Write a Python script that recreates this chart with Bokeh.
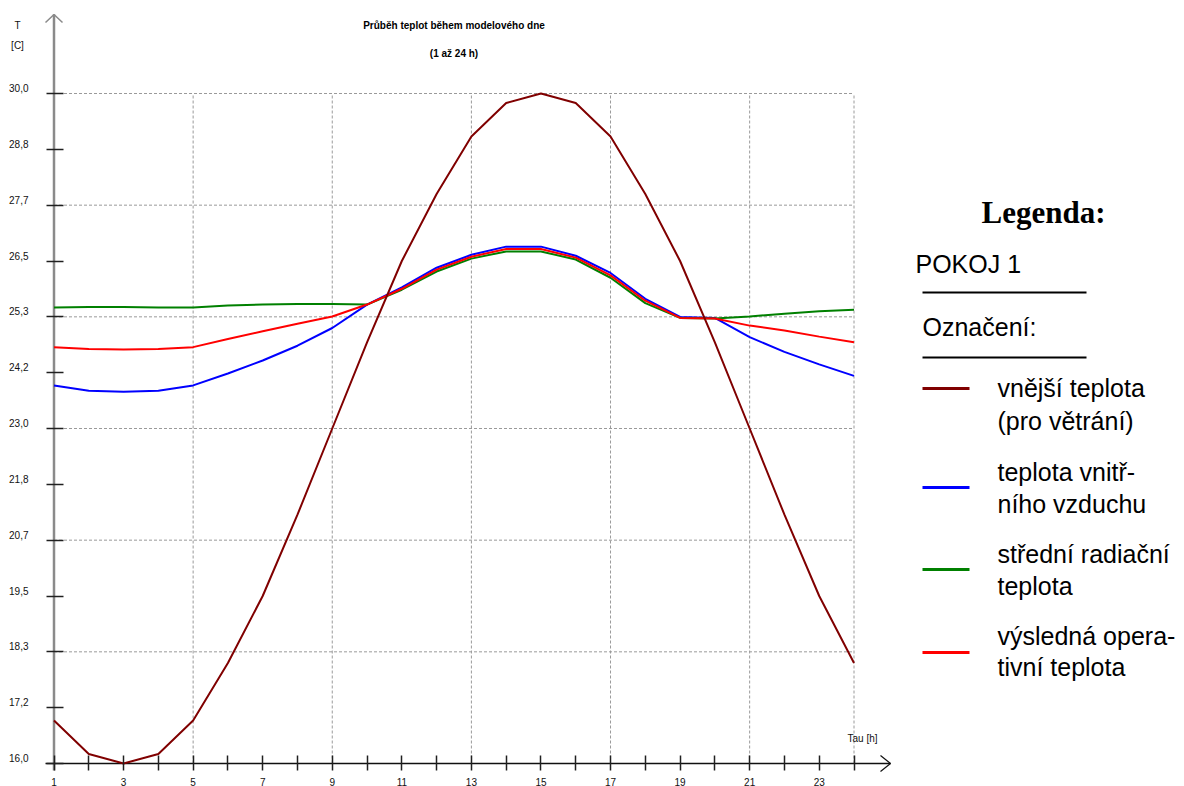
from bokeh.plotting import figure
from bokeh.models import Range1d, LinearAxis, FixedTicker, CustomJSTickFormatter
from bokeh.core.properties import value
from bokeh.embed import file_html
from bokeh.resources import INLINE

# ---------------- data ----------------
hours = list(range(1, 25))
t_outdoor = [16.9, 16.2, 16.0, 16.2, 16.9, 18.1, 19.5, 21.2, 23.0, 24.8, 26.5, 27.9,
             29.1, 29.8, 30.0, 29.8, 29.1, 27.9, 26.5, 24.8, 23.0, 21.2, 19.5, 18.1]
t_air = [23.90, 23.79, 23.77, 23.79, 23.90, 24.15, 24.42, 24.73, 25.10, 25.59, 25.95, 26.36,
         26.63, 26.80, 26.80, 26.61, 26.25, 25.71, 25.33, 25.31, 24.91, 24.60, 24.34, 24.10]
t_radiant = [25.53, 25.54, 25.54, 25.53, 25.53, 25.57, 25.59, 25.60, 25.60, 25.59, 25.90, 26.28,
             26.55, 26.70, 26.70, 26.53, 26.15, 25.62, 25.31, 25.30, 25.34, 25.40, 25.45, 25.48]
t_operative = [24.70, 24.66, 24.65, 24.66, 24.70, 24.87, 25.03, 25.19, 25.34, 25.59, 25.92, 26.32,
               26.59, 26.75, 26.75, 26.57, 26.20, 25.67, 25.31, 25.30, 25.15, 25.05, 24.92, 24.80]

series_labels = [("vnější teplota", "(pro větrání)"),
                 ("teplota vnitř-", "ního vzduchu"),
                 ("střední radiační", "teplota"),
                 ("výsledná opera-", "tivní teplota")]
series_colors = ["#800000", "#0000ff", "#008000", "#ff0000"]

y_tick_values = [16.0 + i * (30.0 - 16.0) / 12 for i in range(13)]
y_tick_labels = ["16,0", "17,2", "18,3", "19,5", "20,7", "21,8", "23,0",
                 "24,2", "25,3", "26,5", "27,7", "28,8", "30,0"]
y_grid_values = y_tick_values[2::2]
x_major_ticks = list(range(1, 24, 2))
x_tick_labels = [str(h) for h in x_major_ticks]
x_minor_ticks = list(range(2, 25, 2))
x_grid_values = [5, 9, 13, 17, 21, 24]

title_lines = ["Průběh teplot během modelového dne", "(1 až 24 h)"]
y_axis_title = ["T", "[C]"]
x_axis_title = "Tau [h]"
legend_title = "Legenda:"
room_name = "POKOJ 1"
legend_caption = "Označení:"

# ---------------- geometry ----------------
W, H = 1184, 786
XS = 800 / 23          # px per hour (hour 1 at px 53.5, hour 24 at px 853.5)
YS = 670 / 14          # px per degree (30 at px 93, 16 at px 763)
x0 = 1 - 53.5 / XS
x1 = x0 + W / XS
y1 = 30 + 93 / YS
y0 = y1 - H / YS


def X(px):
    return x0 + px / XS


def Y(py):
    return y1 - py / YS


SMALL = value("Liberation Sans")

p = figure(width=W, height=H, x_range=Range1d(x0, x1), y_range=Range1d(y0, y1),
           x_axis_type=None, y_axis_type=None, toolbar_location=None,
           output_backend="svg", min_border=0, outline_line_color=None,
           background_fill_color="white", border_fill_color="white")

# grid
p.segment(x0=[1] * len(y_grid_values), y0=y_grid_values, x1=[24] * len(y_grid_values),
          y1=y_grid_values, line_color="#9a9a9a", line_dash="3 2", line_width=1)
p.segment(x0=x_grid_values, y0=[16.0] * len(x_grid_values), x1=x_grid_values,
          y1=[30.0] * len(x_grid_values), line_color="#9a9a9a", line_dash="3 2", line_width=1)

# axes (ticks only)
xaxis = LinearAxis(fixed_location=16.0,
                   ticker=FixedTicker(ticks=x_major_ticks, minor_ticks=x_minor_ticks),
                   formatter=CustomJSTickFormatter(code="return ''"),
                   axis_line_color=None, major_tick_in=8, major_tick_out=7,
                   minor_tick_in=8, minor_tick_out=7,
                   major_tick_line_color="#202020", minor_tick_line_color="#202020",
                   major_tick_line_width=1.5, minor_tick_line_width=1.5)
p.add_layout(xaxis, "below")
yaxis = LinearAxis(fixed_location=1,
                   ticker=FixedTicker(ticks=y_tick_values, minor_ticks=[]),
                   formatter=CustomJSTickFormatter(code="return ''"),
                   axis_line_color=None, major_tick_in=9, major_tick_out=8,
                   minor_tick_in=0, minor_tick_out=0,
                   major_tick_line_color="#202020", major_tick_line_width=1.5)
p.add_layout(yaxis, "left")

# axis lines with arrows
p.line(x=[1, 1], y=[Y(770), Y(14)], line_color="#8a8a8a", line_width=2.5)
p.line(x=[X(45), 1, X(62)], y=[Y(22), Y(14), Y(22)], line_color="#8a8a8a", line_width=1.5)
p.line(x=[X(45), X(890)], y=[16.0, 16.0], line_color="#101010", line_width=1.5)
p.line(x=[X(880), X(890), X(880)], y=[Y(755), 16.0, Y(771)], line_color="#101010", line_width=1.2)

# data series
p.line(hours, t_air, line_color=series_colors[1], line_width=2)
p.line(hours, t_radiant, line_color=series_colors[2], line_width=2)
p.line(hours, t_operative, line_color=series_colors[3], line_width=2)
p.line(hours, t_outdoor, line_color=series_colors[0], line_width=2)

# tick labels
p.text(x=[X(28)] * len(y_tick_values), y=[v + 5.5 / YS for v in y_tick_values],
       text=y_tick_labels, text_font=SMALL, text_font_size="10px", text_align="right",
       text_baseline="middle", text_color="#111111")
p.text(x=x_major_ticks, y=[Y(781)] * len(x_major_ticks), text=x_tick_labels,
       text_font=SMALL, text_font_size="10px", text_align="center",
       text_baseline="middle", text_color="#111111")

# axis titles and chart title
p.text(x=[X(17), X(17)], y=[Y(25), Y(45)], text=y_axis_title, text_font=SMALL,
       text_font_size="10px", text_align="center", text_baseline="middle", text_color="#111111")
p.text(x=[X(862)], y=[Y(738)], text=[x_axis_title], text_font=SMALL,
       text_font_size="10px", text_align="center", text_baseline="middle", text_color="#111111")
p.text(x=[12.5, 12.5], y=[Y(25), Y(53)], text=title_lines, text_font=SMALL,
       text_font_size="10px", text_font_style="bold", text_align="center",
       text_baseline="middle", text_color="black")

# legend
p.text(x=[X(1043)], y=[Y(212)], text=[legend_title], text_font=value("Liberation Serif"),
       text_font_size="31px", text_font_style="bold", text_align="center",
       text_baseline="middle", text_color="black")
p.text(x=[X(915)], y=[Y(263)], text=[room_name], text_font=SMALL, text_font_size="25px",
       text_align="left", text_baseline="middle", text_color="black")
p.text(x=[X(922)], y=[Y(326)], text=[legend_caption], text_font=SMALL, text_font_size="25px",
       text_align="left", text_baseline="middle", text_color="black")
p.segment(x0=[X(922), X(922)], y0=[Y(292), Y(357)], x1=[X(1086), X(1086)],
          y1=[Y(292), Y(357)], line_color="black", line_width=2)

sample_y = [Y(388), Y(487), Y(569), Y(652)]
p.segment(x0=[X(922)] * 4, y0=sample_y, x1=[X(969)] * 4, y1=sample_y,
          line_color=series_colors, line_width=3)
first_mid = [387, 471, 553, 635]
second_mid = [420, 503, 585, 666]
p.text(x=[X(997)] * 4, y=[Y(b) for b in first_mid], text=[s[0] for s in series_labels],
       text_font=SMALL, text_font_size="25px", text_align="left",
       text_baseline="middle", text_color="black")
p.text(x=[X(997)] * 4, y=[Y(b) for b in second_mid], text=[s[1] for s in series_labels],
       text_font=SMALL, text_font_size="25px", text_align="left",
       text_baseline="middle", text_color="black")

with open("out.html", "w", encoding="utf-8") as f:
    f.write(file_html(p, INLINE))
